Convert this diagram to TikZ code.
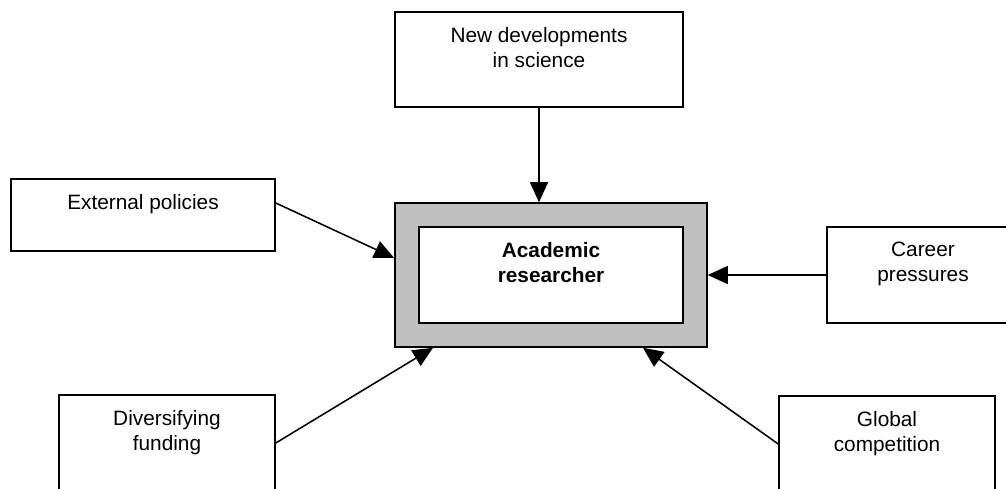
\documentclass[tikz,border=0pt]{standalone}
\usepackage{fontspec}
\setmainfont{Liberation Sans}
\usetikzlibrary{arrows.meta}
\definecolor{framegray}{RGB}{192,192,192}
\begin{document}
\begin{tikzpicture}[
 box/.style={draw,line width=1.1pt,inner sep=0pt},
 txt/.style={anchor=north,yshift=-0.275cm,align=center,font=\fontsize{14.8}{17.7}\selectfont},
 txtb/.style={txt,font=\fontsize{14.8}{17.7}\selectfont\bfseries},
 tip/.style={-{Triangle[length=0.5cm,width=0.45cm]},line width=1.1pt}]
 \clip (0,0) rectangle (25.15,-12.2);
 \node[box,minimum width=7.2cm,minimum height=2.375cm,label={[txt]north:New developments\\in science}] (sci) at (13.475,-1.4875) {};
 \node[box,minimum width=6.6cm,minimum height=1.8cm,label={[txt]north:External policies}] (pol) at (3.575,-5.375) {};
 \node[box,fill=framegray,minimum width=7.8cm,minimum height=3.6cm] (frame) at (13.775,-6.875) {};
 \node[box,fill=white,minimum width=6.6cm,minimum height=2.4cm,label={[txtb]north:Academic\\researcher}] (res) at (13.775,-6.875) {};
 \node[box,minimum width=4.8cm,minimum height=2.4cm,label={[txt]north:Career\\pressures}] (car) at (23.075,-6.875) {};
 \node[box,minimum width=5.4cm,minimum height=2.4cm,label={[txt]north:Diversifying\\funding}] (fund) at (4.175,-11.075) {};
 \node[box,minimum width=5.4cm,minimum height=2.4cm,label={[txt]north:Global\\competition}] (glob) at (22.175,-11.1) {};
 \draw[tip] (sci.south) -- (sci.south |- frame.north);
 \draw[tip] ([yshift=0.3cm]pol.east) -- ([yshift=0.425cm]frame.west);
 \draw[tip] (car.west) -- (frame.east);
 \draw[tip] (fund.east) -- ([xshift=-2.95cm]frame.south);
 \draw[tip] (glob.west) -- ([xshift=2.3cm]frame.south);
\end{tikzpicture}
\end{document}
